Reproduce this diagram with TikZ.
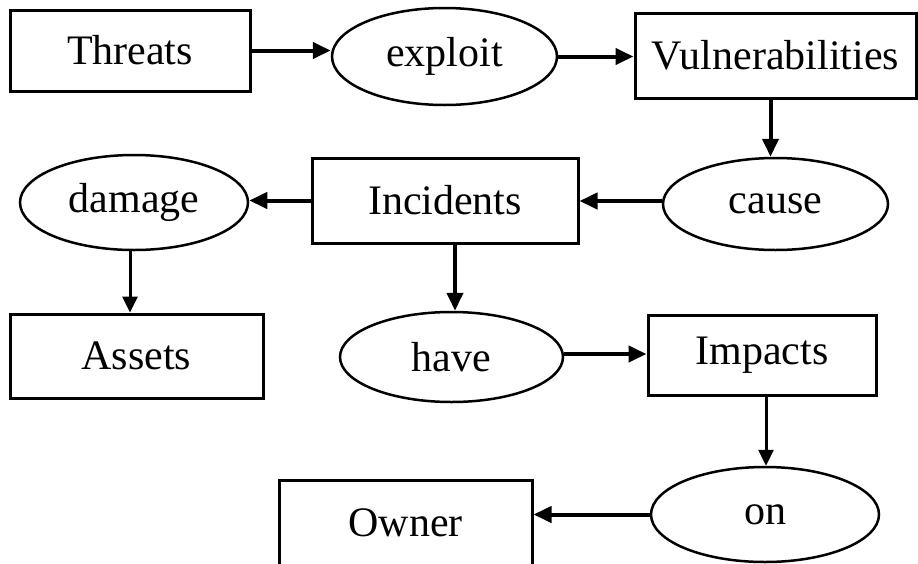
\documentclass[tikz,border=0pt]{standalone}
\usepackage{fontspec}
\setmainfont{Liberation Serif}
\usetikzlibrary{shapes.geometric,arrows.meta}
\begin{document}
\begin{tikzpicture}[x=1pt,y=-1pt,
  every node/.style={font=\fontsize{42}{44}\selectfont, inner sep=0pt},
  box/.style={draw, line width=3pt, rectangle},
  oval/.style={draw, line width=2.5pt, ellipse},
  conn/.style={line width=4pt, -{Triangle[length=18pt,width=16pt]}},
  thinconn/.style={line width=3pt, -{Triangle[length=16pt,width=15pt]}}]
\useasboundingbox (0,0) rectangle (918,563);
\clip (0,0) rectangle (918,563);
\fill[white] (0,0) rectangle (918,563);
\node[box, minimum width=240pt, minimum height=81pt] (threats) at (130,50.5) {Threats};
\node[oval, minimum width=225pt, minimum height=97pt] (exploit) at (444.5,56.5) {exploit};
\node[box, minimum width=281pt, minimum height=85pt] (vuln) at (775.5,55.5) {Vulnerabilities};
\node[oval, minimum width=225pt, minimum height=92pt] (cause) at (775.5,204) {cause};
\node[box, minimum width=266pt, minimum height=85pt] (incidents) at (445,200.5) {Incidents};
\node[oval, minimum width=228pt, minimum height=95pt] (damage) at (134,202.5) {damage};
\node[box, minimum width=253pt, minimum height=84pt] (assets) at (136.5,356) {Assets};
\node[oval, minimum width=223pt, minimum height=90pt] (have) at (451.5,357) {have};
\node[box, minimum width=228pt, minimum height=80pt] (impacts) at (762,355) {Impacts};
\node[oval, minimum width=228pt, minimum height=95pt] (on) at (765,514.5) {on};
\node[box, minimum width=253pt, text height=56pt, text depth=44pt, anchor=north] (owner) at (405.5,479) {Owner};
\draw[conn] (threats.east) -- (threats.east -| exploit.west);
\draw[conn] (exploit.east) -- (exploit.east -| vuln.west);
\draw[conn] ([xshift=-5pt]vuln.south) -- ([xshift=-5pt]vuln.south |- cause.north);
\draw[conn] ([yshift=3pt]cause.west) -- ([yshift=3pt]cause.west -| incidents.east);
\draw[conn] (incidents.west) -- (incidents.west -| damage.east);
\draw[thinconn] ([xshift=-4pt]damage.south) -- ([xshift=-4pt]damage.south |- assets.north);
\draw[conn] ([xshift=10pt]incidents.south) -- ([xshift=10pt]incidents.south |- have.north);
\draw[conn] ([yshift=3pt]have.east) -- ([yshift=3pt]have.east -| impacts.west);
\draw[thinconn] ([xshift=4pt]impacts.south) -- ([xshift=4pt]impacts.south |- on.north);
\draw[conn] (on.west) -- (on.west -| owner.east);
\end{tikzpicture}
\end{document}
